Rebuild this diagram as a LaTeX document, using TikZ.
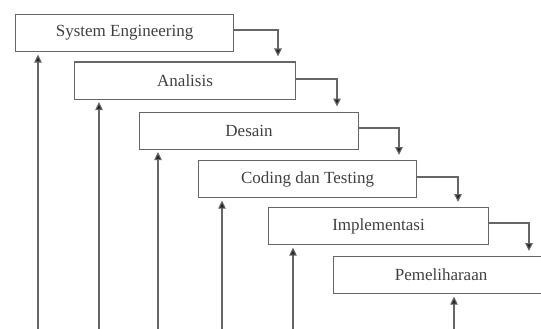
\documentclass[tikz,border=0pt]{standalone}
\usepackage{fontspec}
\setmainfont{Liberation Serif}
\usetikzlibrary{arrows.meta,positioning}
\begin{document}
\begin{tikzpicture}[x=1pt,y=-1pt,
  phase/.style={draw=black!60,line width=1.1pt,minimum height=37pt,inner sep=0pt,
    font=\fontsize{17}{19}\selectfont,text=black!75,anchor=north west},
  conn/.style={draw=black!60,line width=1.1pt,-{Triangle[width=7.5pt,length=8pt,fill=black!85]}}]
\useasboundingbox (0,0) rectangle (541,329);
\clip (0,0) rectangle (541,329);
\node[phase,minimum width=218pt] (se) at (15,14) {System Engineering};
\node[phase,minimum width=221pt] (an) at (74,61.5) {Analisis};
\node[phase,minimum width=219pt] (de) at (139,111.5) {Desain};
\node[phase,minimum width=218pt] (ct) at (198,160) {Coding dan Testing};
\node[phase,minimum width=220pt] (im) at (268,207) {Implementasi};
\node[phase,minimum width=215pt] (pe) at (333,256) {Pemeliharaan};
% forward connectors
\coordinate (k1) at (278,30);
\coordinate (k2) at (337,79);
\coordinate (k3) at (399,128);
\coordinate (k4) at (458,177);
\coordinate (k5) at (529,223);
\draw[conn] (se.east |- k1) -| ([yshift=5pt]an.north -| k1);
\draw[conn] (an.east |- k2) -| ([yshift=5pt]de.north -| k2);
\draw[conn] (de.east |- k3) -| ([yshift=5pt]ct.north -| k3);
\draw[conn] (ct.east |- k4) -| ([yshift=5pt]im.north -| k4);
\draw[conn] (im.east |- k5) -| ([yshift=5pt]pe.north -| k5);
% feedback connectors
\coordinate (b1) at (38,335);
\coordinate (b2) at (99,335);
\coordinate (b3) at (158,335);
\coordinate (b4) at (222,335);
\coordinate (b5) at (293,335);
\coordinate (b6) at (454,335);
\draw[conn] (b1) -- ([yshift=-2.5pt]se.south -| b1);
\draw[conn] (b2) -- ([yshift=-2.5pt]an.south -| b2);
\draw[conn] (b3) -- ([yshift=-2.5pt]de.south -| b3);
\draw[conn] (b4) -- ([yshift=-2.5pt]ct.south -| b4);
\draw[conn] (b5) -- ([yshift=-2.5pt]im.south -| b5);
\draw[conn] (b6) -- ([yshift=-2.5pt]pe.south -| b6);
\end{tikzpicture}
\end{document}
